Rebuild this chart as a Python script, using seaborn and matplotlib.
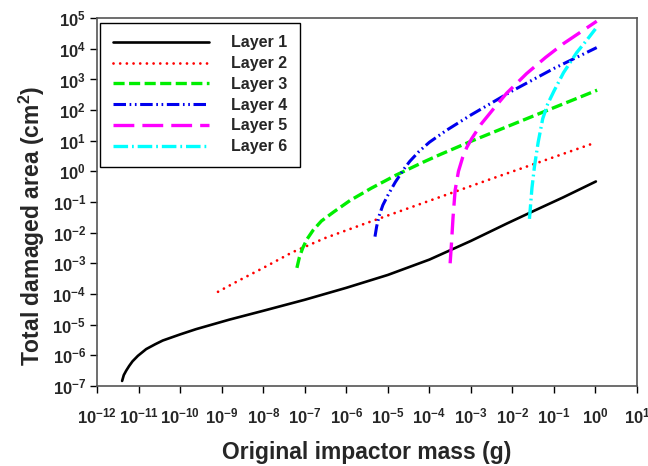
import numpy as np
import pandas as pd
import seaborn as sns
import matplotlib
matplotlib.use("Agg")
import matplotlib.pyplot as plt
from matplotlib.ticker import NullLocator, FuncFormatter

# log10 of impactor mass (g) and log10 of damaged area (cm^2) for each layer
layer1_logm = [-11.40, -11.36, -11.30, -11.23, -11.15, -11.02, -10.82, -10.60, -10.42,
               -10.00, -9.62, -8.82, -8.00, -7.00, -6.00, -5.00, -4.00, -3.00,
               -2.13, -1.50, -0.78, 0.01]
layer1_loga = [-6.84, -6.65, -6.50, -6.35, -6.20, -6.02, -5.80, -5.64, -5.52,
               -5.32, -5.15, -4.84, -4.55, -4.19, -3.80, -3.38, -2.88, -2.27,
               -1.70, -1.30, -0.85, -0.33]

layer2_logm = [-9.09, -8.60, -8.00, -7.30, -6.50, -5.50, -4.50, -3.50, -2.50, -1.50, -0.06]
layer2_loga = [-3.93, -3.57, -3.15, -2.64, -2.17, -1.68, -1.20, -0.72, -0.24, 0.23, 0.91]

layer3_logm = [-7.19, -7.13, -7.05, -6.95, -6.80, -6.60, -6.30, -5.91, -5.40,
               -4.80, -4.15, -3.74, -3.00, -2.00, -1.00, 0.04]
layer3_loga = [-3.15, -2.80, -2.50, -2.22, -1.92, -1.62, -1.32, -0.95, -0.55,
               -0.12, 0.30, 0.55, 0.98, 1.53, 2.08, 2.65]

layer4_logm = [-5.31, -5.27, -5.21, -5.12, -5.00, -4.82, -4.60, -4.47, -4.25,
               -4.00, -3.60, -3.00, -2.00, -1.00, 0.03]
layer4_loga = [-2.13, -1.80, -1.45, -1.10, -0.78, -0.35, 0.10, 0.33, 0.65,
               0.95, 1.33, 1.84, 2.63, 3.36, 4.04]

layer5_logm = [-3.50, -3.47, -3.43, -3.38, -3.30, -3.20, -3.10, -2.98, -2.75,
               -2.45, -2.14, -1.66, -1.20, -0.77, 0.03]
layer5_loga = [-3.00, -2.40, -1.50, -0.62, 0.00, 0.45, 0.78, 1.07, 1.55,
               2.05, 2.55, 3.19, 3.72, 4.17, 4.90]

layer6_logm = [-1.59, -1.56, -1.53, -1.47, -1.38, -1.27, -1.15, -1.00, -0.77,
               -0.45, -0.20, 0.00]
layer6_loga = [-1.55, -1.05, -0.55, 0.15, 0.95, 1.72, 2.20, 2.62, 3.22,
               3.88, 4.30, 4.65]

layer_names = ["Layer 1", "Layer 2", "Layer 3", "Layer 4", "Layer 5", "Layer 6"]
x_ticks_exp = list(range(-12, 2))
y_ticks_exp = list(range(-7, 6))

frames = []
for name, lm, la in zip(layer_names,
                        [layer1_logm, layer2_logm, layer3_logm, layer4_logm, layer5_logm, layer6_logm],
                        [layer1_loga, layer2_loga, layer3_loga, layer4_loga, layer5_loga, layer6_loga]):
    frames.append(pd.DataFrame({"layer": name,
                                "mass": np.power(10.0, lm),
                                "area": np.power(10.0, la)}))
df = pd.concat(frames, ignore_index=True)

sns.set_style("ticks")
plt.rcParams["font.family"] = ["Liberation Sans", "DejaVu Sans"]
plt.rcParams["font.weight"] = "bold"
plt.rcParams["mathtext.fontset"] = "custom"
plt.rcParams["mathtext.rm"] = "Liberation Sans:bold"
plt.rcParams["mathtext.bf"] = "Liberation Sans:bold"
plt.rcParams["mathtext.it"] = "Liberation Sans:bold:italic"
plt.rcParams["lines.scale_dashes"] = False

styles = {
    "Layer 1": dict(color="black", lw=1.9, linestyle="-"),
    "Layer 2": dict(color="#ff0000", lw=2.0, linestyle=(0, (0.01, 4.8)), dash_capstyle="round"),
    "Layer 3": dict(color="#00ee00", lw=2.4, linestyle=(0, (8.0, 3.2))),
    "Layer 4": dict(color="#0000ee", lw=2.2, linestyle=(0, (9.0, 2.6, 1.2, 2.6, 1.2, 2.6))),
    "Layer 5": dict(color="#ff00ff", lw=2.4, linestyle=(0, (15.0, 5.8))),
    "Layer 6": dict(color="#00ffff", lw=2.4, linestyle=(0, (10.5, 2.8, 1.3, 2.8))),
}

fig = plt.figure(figsize=(6.48, 4.66), dpi=100)
ax = fig.add_axes([0.150, 0.172, 0.833, 0.789])

for name in layer_names:
    sub = df[df["layer"] == name]
    sns.lineplot(data=sub, x="mass", y="area", ax=ax, sort=False, estimator=None,
                 label=name, **styles[name])

ax.set_xscale("log")
ax.set_yscale("log")
ax.set_xlim(10.0 ** x_ticks_exp[0], 10.0 ** x_ticks_exp[-1])
ax.set_ylim(10.0 ** y_ticks_exp[0], 10.0 ** y_ticks_exp[-1])
ax.set_xticks([10.0 ** e for e in x_ticks_exp])
ax.set_yticks([10.0 ** e for e in y_ticks_exp])
ax.xaxis.set_minor_locator(NullLocator())
ax.yaxis.set_minor_locator(NullLocator())
fmt = FuncFormatter(lambda v, pos: r"$10^{%d}$" % int(round(np.log10(v))))
ax.xaxis.set_major_formatter(fmt)
ax.yaxis.set_major_formatter(fmt)
ax.tick_params(axis="both", which="major", direction="out", length=5, width=1.0,
               labelsize=12, color="black")
ax.tick_params(axis="x", pad=10)
ax.tick_params(axis="y", pad=3)

for s in ax.spines.values():
    s.set_visible(True)
    s.set_color("#555555")
    s.set_linewidth(1.2)

ax.set_xlabel("Original impactor mass (g)", fontsize=16.5, fontweight="bold", labelpad=10.5)
ax.set_ylabel(r"Total damaged area (cm$^{2}$)", fontsize=16.5, fontweight="bold")
ax.yaxis.set_label_coords(-0.093, 0.435)

leg = ax.legend(loc="upper left", bbox_to_anchor=(0.005, 0.988), fontsize=11.5,
                handlelength=6.0, handletextpad=1.4, labelspacing=0.36,
                borderpad=0.8, borderaxespad=0.0, frameon=True, fancybox=False,
                edgecolor="black", framealpha=1.0)
leg.get_frame().set_linewidth(1.0)
for t in leg.get_texts():
    t.set_fontweight("bold")

fig.savefig("out.png", dpi=100)
